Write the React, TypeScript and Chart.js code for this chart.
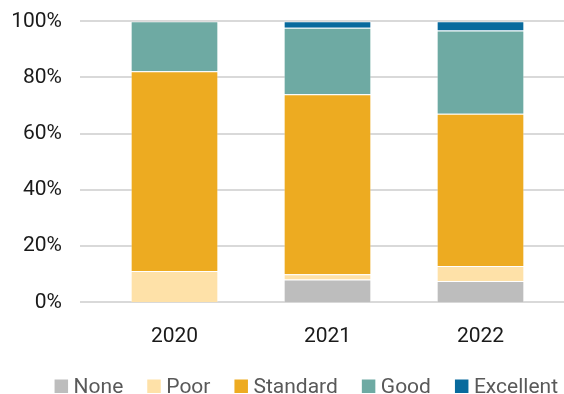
import React, { useEffect, useRef } from "react";
import { Chart, registerables } from "chart.js";

Chart.register(...registerables);

const categories = ["2020", "2021", "2022"];
const seriesNames = ["None", "Poor", "Standard", "Good", "Excellent"];
const noneValues = [0, 8.1, 7.6];
const poorValues = [11.1, 1.9, 5.3];
const standardValues = [71.1, 64.0, 54.2];
const goodValues = [17.8, 23.7, 29.6];
const excellentValues = [0, 2.3, 3.3];
const yTicks = [0, 20, 40, 60, 80, 100];

const colors = ["#BDBDBD", "#FEE1A8", "#EDAB21", "#6EAAA3", "#086A9D"];
const FONT = "Roboto";

export default function App() {
  const ref = useRef<HTMLCanvasElement | null>(null);

  useEffect(() => {
    const canvas = ref.current;
    if (!canvas) return;
    const values = [noneValues, poorValues, standardValues, goodValues, excellentValues];

    const gridPlugin = {
      id: "fullGrid",
      beforeDatasetsDraw(chart: any) {
        const ctx = chart.ctx;
        const y = chart.scales.y;
        ctx.save();
        ctx.strokeStyle = "#D9D9D9";
        ctx.lineWidth = 2;
        yTicks.forEach((t) => {
          const py = Math.round(y.getPixelForValue(t));
          ctx.beginPath();
          ctx.moveTo(80, py);
          ctx.lineTo(564, py);
          ctx.stroke();
        });
        ctx.restore();
      },
    };

    const legendPlugin = {
      id: "customLegend",
      afterDraw(chart: any) {
        const ctx = chart.ctx;
        ctx.save();
        ctx.font = `21px ${FONT}`;
        ctx.textBaseline = "alphabetic";
        const box = 13.5;
        const gapText = 5.5;
        const gapItem = 24;
        const widths = seriesNames.map((n) => box + gapText + ctx.measureText(n).width);
        const total = widths.reduce((a, b) => a + b, 0) + gapItem * (seriesNames.length - 1);
        let x = 306.3 - total / 2;
        const baseline = 393;
        seriesNames.forEach((n, i) => {
          ctx.fillStyle = colors[i];
          ctx.fillRect(x, baseline - box, box, box);
          ctx.fillStyle = "#595959";
          ctx.fillText(n, x + box + gapText, baseline);
          x += widths[i] + gapItem;
        });
        ctx.restore();
      },
    };

    const chart = new Chart(canvas, {
      type: "bar",
      data: {
        labels: categories,
        datasets: seriesNames.map((name, i) => ({
          label: name,
          data: values[i],
          backgroundColor: colors[i],
          borderColor: "rgba(255,255,255,0.35)",
          borderWidth: 1,
          categoryPercentage: 1,
          barPercentage: 0.573,
        })),
      },
      options: {
        animation: false,
        responsive: false,
        devicePixelRatio: 1,
        layout: { padding: { left: 0, right: 7, top: 21.3, bottom: 46.5 } },
        plugins: {
          legend: { display: false },
          title: { display: false },
          tooltip: { enabled: false },
        },
        scales: {
          x: {
            stacked: true,
            grid: { display: false, drawTicks: false },
            border: { display: false },
            afterFit(scale: any) {
              scale.height = 45.2;
            },
            ticks: {
              color: "#1a1a1a",
              font: { family: FONT, size: 21 },
              padding: 22,
              maxRotation: 0,
            },
          },
          y: {
            stacked: true,
            min: 0,
            max: 100,
            afterFit(scale: any) {
              scale.width = 98;
            },
            grid: { display: false, drawTicks: true, tickLength: 36 },
            border: { display: false },
            ticks: {
              stepSize: 20,
              color: "#1a1a1a",
              font: { family: FONT, size: 21 },
              padding: 0,
              callback: (v: any) => `${v}%`,
            },
          },
        },
      },
      plugins: [gridPlugin, legendPlugin],
    });

    return () => chart.destroy();
  }, []);

  return (
    <div style={{ position: "fixed", left: 0, top: 0, width: 564, height: 394, background: "#fff" }}>
      <canvas ref={ref} width={564} height={394} style={{ display: "block" }} />
    </div>
  );
}
